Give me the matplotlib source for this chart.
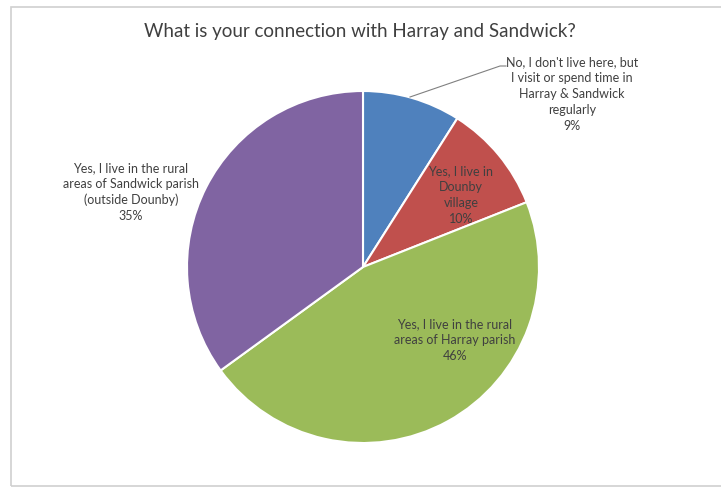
import matplotlib
matplotlib.use("Agg")
import matplotlib.pyplot as plt
from matplotlib.patches import Rectangle

plt.rcParams['font.family'] = ['Lato', 'DejaVu Sans']

title = "What is your connection with Harray and Sandwick?"
categories = [
    "No, I don't live here, but\nI visit or spend time in\nHarray & Sandwick\nregularly",
    "Yes, I live in\nDounby\nvillage",
    "Yes, I live in the rural\nareas of Harray parish",
    "Yes, I live in the rural\nareas of Sandwick parish\n(outside Dounby)",
]
values = [9, 10, 46, 35]
colors = ["#4F81BD", "#C0504D", "#9BBB59", "#8064A2"]

W, H = 721, 488
fig = plt.figure(figsize=(W / 100, H / 100), dpi=100)

# chart frame
fig.patches.append(Rectangle((11 / W, 2 / H), 1.2, (479 / H), transform=fig.transFigure,
                             fill=False, edgecolor="#d0d0d0", linewidth=1.2, zorder=0))

cx, cy, r = 363, 267, 176
ax = fig.add_axes([(cx - r) / W, (H - cy - r) / H, 2 * r / W, 2 * r / H])
ax.pie(values, colors=colors, startangle=90, counterclock=False,
       wedgeprops=dict(edgecolor="white", linewidth=1.5), radius=1)
ax.set_xlim(-1, 1)
ax.set_ylim(-1, 1)
ax.set_aspect("auto")
ax.axis("off")

def px(x, y):
    return (x - cx) / r, (cy - y) / r

label_pos = [(572, 94), (461, 195), (455, 340), (131, 192)]
text_col = "#404040"
for cat, v, (lx, ly) in zip(categories, values, label_pos):
    x, y = px(lx, ly)
    ax.text(x, y, f"{cat}\n{v}%", ha="center", va="center", fontsize=9,
            color=text_col, linespacing=1.38, clip_on=False)

# leader line for the small outside label
p0 = px(410, 97)
p1 = px(500, 66)
p2 = px(506, 66)
ax.plot([p0[0], p1[0], p2[0]], [p0[1], p1[1], p2[1]], color="#808080",
        linewidth=0.8, clip_on=False)

fig.text(360 / W, 1 - 32 / H, title, ha="center", va="center", fontsize=13.5,
         color="#404040")

fig.savefig("out.png", dpi=100, facecolor="white")
